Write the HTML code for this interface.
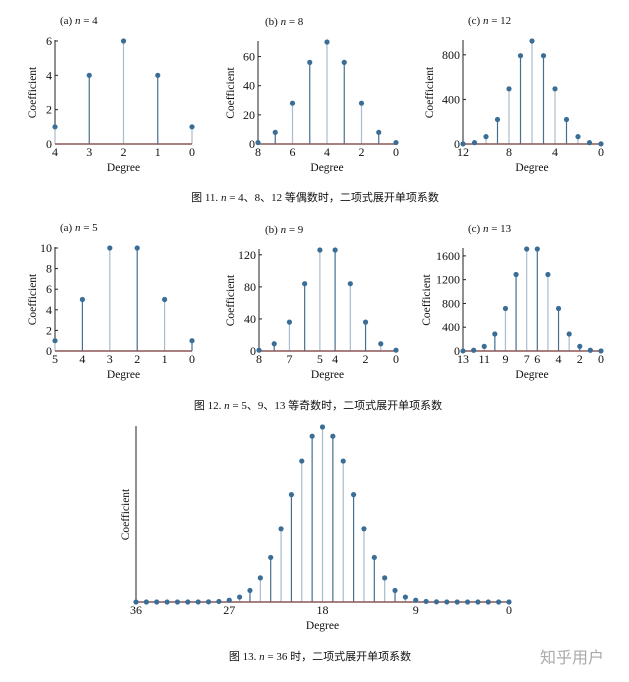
<!DOCTYPE html>
<html><head><meta charset="utf-8"><style>
html,body{margin:0;padding:0;background:#fff;}
svg text{font-family:"Liberation Serif","Noto Serif CJK SC",serif;fill:#111;}
.cap{font-family:"Liberation Serif","Noto Sans CJK SC",sans-serif;font-size:11px;}
</style></head><body>
<svg id="c" width="629" height="677" viewBox="0 0 629 677" xmlns="http://www.w3.org/2000/svg">
<text class="cap" x="315" y="201" text-anchor="middle">图 11. <tspan font-style="italic">n</tspan> = 4、8、12 等偶数时，二项式展开单项系数</text>
<text class="cap" x="318" y="409" text-anchor="middle">图 12. <tspan font-style="italic">n</tspan> = 5、9、13 等奇数时，二项式展开单项系数</text>
<text class="cap" x="320" y="660" text-anchor="middle">图 13. <tspan font-style="italic">n</tspan> = 36 时，二项式展开单项系数</text>
<text x="572" y="663" text-anchor="middle" style="font-family:'Liberation Sans','Noto Sans CJK SC',sans-serif;font-size:16px;fill:#aaa">知乎用户</text>
</svg>
<script>
// data arrays (coefficients by degree, listed from degree n down to 0)
const coef4=[1,4,6,4,1];
const coef8=[1,8,28,56,70,56,28,8,1];
const coef12=[1,12,66,220,495,792,924,792,495,220,66,12,1];
const coef5=[1,5,10,10,5,1];
const coef9=[1,9,36,84,126,126,84,36,9,1];
const coef13=[1,13,78,286,715,1287,1716,1716,1287,715,286,78,13,1];
const coef36=[1,36,630,7140,58905,376992,1947792,8347680,30260340,94143280,254186856,600805296,1251677700,2310789600,3796297200,5567902560,7307872110,8597496600,9075135300,8597496600,7307872110,5567902560,3796297200,2310789600,1251677700,600805296,254186856,94143280,30260340,8347680,1947792,376992,58905,7140,630,36,1];
const yTicks4=[0,2,4,6], yTicks8=[0,20,40,60], yTicks12=[0,400,800];
const yTicks5=[0,2,4,6,8,10], yTicks9=[0,40,80,120], yTicks13=[0,400,800,1200,1600], yTicks36=[];
const xTickPos4=[4,3,2,1,0], xTickLab4=["4","3","2","1","0"];
const xTickPos8=[8,6,4,2,0], xTickLab8=["8","6","4","2","0"];
const xTickPos12=[12,8,4,0], xTickLab12=["12","8","4","0"];
const xTickPos5=[5,4,3,2,1,0], xTickLab5=["5","4","3","2","1","0"];
const xTickPos9=[9,7,5,4,2,0], xTickLab9=["8","7","5","4","2","0"];
const xTickPos13=[13,11,9,7,6,4,2,0], xTickLab13=["13","11","9","7","6","4","2","0"];
const xTickPos36=[36,27,18,9,0], xTickLab36=["36","27","18","9","0"];

const NS="http://www.w3.org/2000/svg", svg=document.getElementById('c');
function mk(t,a,p){const e=document.createElementNS(NS,t);for(const k in a)e.setAttribute(k,a[k]);(p||svg).appendChild(e);return e;}

function panel(name,title,vals,yt,xp,xl,g){
  const n=vals.length-1, ymax=Math.max(...vals);
  const X=d=>g.x0+(n-d)*(g.x1-g.x0)/n;
  const Y=v=>g.yb-(v/ymax)*(g.yb-g.yt);
  const grp=mk('g',{});
  
  
  if(title){const t=mk('text',{x:g.tx,y:g.yt-17,'font-size':11},grp);t.innerHTML=title;
    }
  const ya=mk('line',{x1:g.x0,x2:g.x0,y1:g.yt-1,y2:g.yb,stroke:'#222','stroke-width':1},grp);
  
  yt.forEach(v=>{const y=Y(v);
    mk('line',{x1:g.x0,x2:g.x0+3,y1:y,y2:y,stroke:'#222'},grp);
    const t=mk('text',{x:g.x0-3,y:y+4,'font-size':12,'text-anchor':'end'},grp);t.textContent=v;
    });
  vals.forEach((v,i)=>{const d=n-i,x=X(d),y=Y(v);
    const s=mk('line',{x1:x,x2:x,y1:g.yb,y2:y,stroke:(i%2?'#46708f':'#a9bccb'),'stroke-width':1.2},grp);
    });
  const xa=mk('line',{x1:g.x0,x2:g.x1,y1:g.yb,y2:g.yb,stroke:'#8a5656','stroke-width':1.5},grp);
  
  vals.forEach((v,i)=>{const d=n-i;
    const c=mk('circle',{cx:X(d),cy:Y(v),r:2.6,fill:'#3a6e97'},grp);
    });
  xp.forEach((d,i)=>{const t=mk('text',{x:X(d),y:g.yb+12,'font-size':12,'text-anchor':'middle'},grp);t.textContent=xl[i];
    });
  const xt=mk('text',{x:(g.x0+g.x1)/2,y:g.yb+27,'font-size':11.5,'text-anchor':'middle'},grp);xt.textContent='Degree';
  
  const yc=(g.yt+g.yb)/2;
  const yl=mk('text',{x:g.lx,y:yc,'font-size':11.5,'text-anchor':'middle',transform:`rotate(-90 ${g.lx} ${yc})`},grp);yl.textContent='Coefficient';
  
}
const it=s=>`(${s}) <tspan font-style="italic">n</tspan> = `;
panel('chart-n4',it('a')+'4',coef4,yTicks4,xTickPos4,xTickLab4,{x0:55,x1:192,yt:41,yb:144,tx:60,lx:36});
panel('chart-n8',it('b')+'8',coef8,yTicks8,xTickPos8,xTickLab8,{x0:258,x1:396,yt:42,yb:144,tx:265,lx:234});
panel('chart-n12',it('c')+'12',coef12,yTicks12,xTickPos12,xTickLab12,{x0:463,x1:601,yt:41,yb:144,tx:468,lx:433});
panel('chart-n5',it('a')+'5',coef5,yTicks5,xTickPos5,xTickLab5,{x0:55,x1:192,yt:248,yb:351,tx:60,lx:36});
panel('chart-n9',it('b')+'9',coef9,yTicks9,xTickPos9,xTickLab9,{x0:259,x1:396,yt:250,yb:351,tx:265,lx:234});
panel('chart-n13',it('c')+'13',coef13,yTicks13,xTickPos13,xTickLab13,{x0:463,x1:601,yt:249,yb:351,tx:468,lx:430});
panel('chart-n36',null,coef36,yTicks36,xTickPos36,xTickLab36,{x0:136,x1:509,yt:427,yb:602,tx:0,lx:129});
</script>
</body></html>
